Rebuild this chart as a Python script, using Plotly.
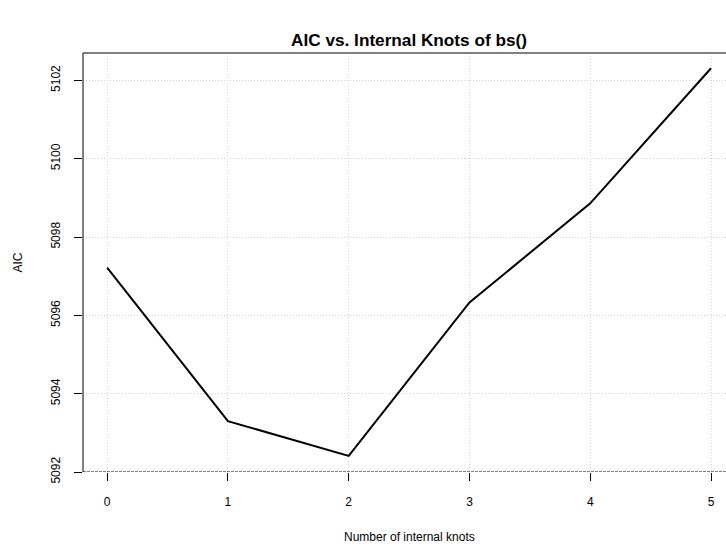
import plotly.graph_objects as go

knots = [0, 1, 2, 3, 4, 5]
aic = [5097.22, 5093.30, 5092.41, 5096.33, 5098.86, 5102.31]
x_ticks = [0, 1, 2, 3, 4, 5]
y_ticks = [5092, 5094, 5096, 5098, 5100, 5102]

W, H = 726, 547
L, T, B = 83, 53, 75
FONT = "Liberation Sans, Arial, Helvetica, sans-serif"

fig = go.Figure()
fig.add_trace(go.Scatter(x=knots, y=aic, mode="lines",
                         line=dict(color="black", width=2), showlegend=False,
                         hoverinfo="skip"))

grid = dict(showgrid=True, gridcolor="#d3d3d3", griddash="1px,2px", gridwidth=1,
            zeroline=False, showline=False, ticks="outside", ticklen=8,
            tickcolor="black", tickwidth=1,
            tickfont=dict(family=FONT, size=12, color="black"))

fig.update_layout(
    width=W, height=H,
    margin=dict(l=L, r=0, t=T, b=B, pad=0),
    plot_bgcolor="white", paper_bgcolor="white",
    xaxis=dict(range=[-0.2, 5.124], tickvals=x_ticks,
               ticktext=[str(v) for v in x_ticks], ticklabelstandoff=11, **grid),
    yaxis=dict(range=[5092.0, 5102.7], tickvals=y_ticks,
               ticktext=[str(v) for v in y_ticks], tickangle=-90,
               ticklabelstandoff=9, **grid),
    title=dict(text="<b>AIC vs. Internal Knots of bs()</b>",
               x=409 / W, xanchor="center", y=1 - 40 / H, yanchor="middle",
               xref="container", yref="container",
               font=dict(family=FONT, size=17.2, color="black")),
    shapes=[
        dict(type="line", xref="paper", yref="paper", x0=0, x1=0, y0=0, y1=1,
             line=dict(color="black", width=1)),
        dict(type="line", xref="paper", yref="paper", x0=0, x1=1, y0=1, y1=1,
             line=dict(color="black", width=1)),
        dict(type="line", xref="paper", yref="y", x0=0, x1=1, y0=5092, y1=5092,
             line=dict(color="black", width=1, dash="3px,1px")),
    ],
    annotations=[
        dict(text="Number of internal knots", xref="paper", yref="paper",
             x=(409 - L) / (W - L), y=(H - B - 537) / (H - B - T),
             xanchor="center", yanchor="middle", showarrow=False,
             font=dict(family=FONT, size=12, color="black")),
        dict(text="AIC", xref="paper", yref="paper",
             x=(17 - L) / (W - L), y=0.5, textangle=-90,
             xanchor="center", yanchor="middle", showarrow=False,
             font=dict(family=FONT, size=12, color="black")),
    ],
)

fig.write_html("out.html", config={"displayModeBar": False},
               post_script="document.body.style.margin='0';"
                           "document.body.style.overflow='hidden';")
